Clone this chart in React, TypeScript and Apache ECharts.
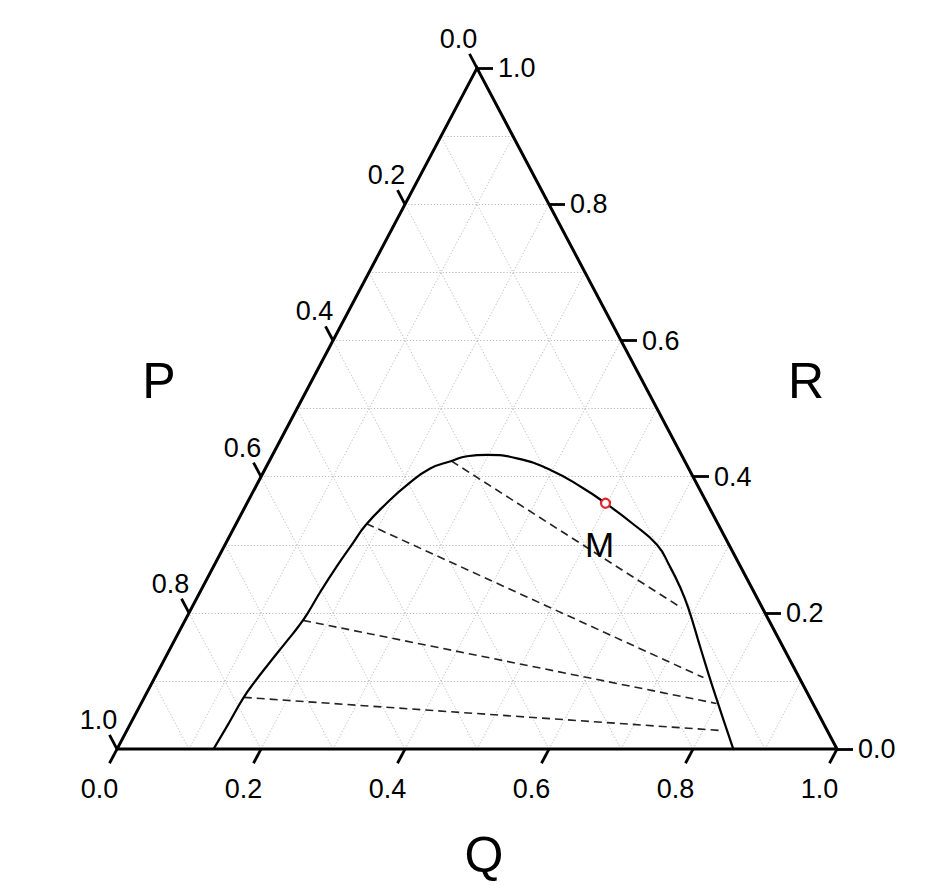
import { useEffect, useRef } from "react";
import * as echarts from "echarts";

// ---- data (ternary fractions; P = 1 - Q - R) ----
const gridValues = [0.1, 0.2, 0.3, 0.4, 0.5, 0.6, 0.7, 0.8, 0.9];
const tickValues = [0, 0.2, 0.4, 0.6, 0.8, 1.0];
const tickLabels = ["0.0", "0.2", "0.4", "0.6", "0.8", "1.0"];
const axisTitles = ["P", "Q", "R"];

// binodal curve
const binodalQ = [0.134, 0.136, 0.138, 0.142, 0.147, 0.157, 0.162, 0.165, 0.167, 0.171, 0.176, 0.181, 0.194, 0.209, 0.229, 0.253, 0.271, 0.298, 0.342, 0.397, 0.456, 0.498, 0.549, 0.6, 0.634, 0.663, 0.69, 0.735, 0.781, 0.856];
const binodalR = [0, 0.033, 0.076, 0.099, 0.121, 0.16, 0.18, 0.199, 0.231, 0.268, 0.3, 0.329, 0.361, 0.388, 0.412, 0.423, 0.43, 0.432, 0.427, 0.41, 0.383, 0.361, 0.332, 0.3, 0.268, 0.238, 0.207, 0.15, 0.092, 0];

// tie lines
const tieStartQ = [0.253, 0.181, 0.164, 0.138];
const tieStartR = [0.423, 0.331, 0.189, 0.076];
const tieEndQ = [0.681, 0.762, 0.799, 0.829];
const tieEndR = [0.207, 0.105, 0.067, 0.027];

// point M
const pointLabel = "M";
const pointQ = 0.498;
const pointR = 0.361;

// ternary (Q, R) -> cartesian (x, y)
const toXY = (q: number, r: number): [number, number] => [q + r / 2, r];

const FONT = "'Liberation Sans', Arial, Helvetica, sans-serif";

export default function App() {
  const ref = useRef<HTMLDivElement>(null);

  useEffect(() => {
    if (!ref.current) return;
    const chart = echarts.init(ref.current, undefined, { renderer: "svg" });

    // grid lines
    const gridSegs: any[] = [];
    gridValues.forEach((v) => {
      gridSegs.push({ coords: [toXY(0, v), toXY(1 - v, v)] }); // constant R
      gridSegs.push({ coords: [toXY(v, 0), toXY(v, 1 - v)] }); // constant Q
      gridSegs.push({ coords: [toXY(1 - v, 0), toXY(0, 1 - v)] }); // constant P
    });

    const qDir = [-0.0104, -0.0208];
    const pDir = [-0.0104, 0.0208];
    const rDir = [0.0222, 0];

    const tickSegs: any[] = [];
    const qLab: any[] = [];
    const pLab: any[] = [];
    const rLab: any[] = [];
    tickValues.forEach((v, i) => {
      const qa = toXY(v, 0);
      const qb = [qa[0] + qDir[0], qa[1] + qDir[1]];
      tickSegs.push({ coords: [qa, qb] });
      qLab.push([qb[0], qb[1], tickLabels[i]]);
      const pa = toXY(0, 1 - v);
      const pb = [pa[0] + pDir[0], pa[1] + pDir[1]];
      tickSegs.push({ coords: [pa, pb] });
      pLab.push([pb[0], pb[1], tickLabels[i]]);
      const ra = toXY(1 - v, v);
      const rb = [ra[0] + rDir[0], ra[1] + rDir[1]];
      tickSegs.push({ coords: [ra, rb] });
      rLab.push([rb[0], rb[1], tickLabels[i]]);
    });

    const tieSegs = tieStartQ.map((q, i) => ({
      coords: [toXY(q, tieStartR[i]), toXY(tieEndQ[i], tieEndR[i])],
    }));

    const binodal = binodalQ.map((q, i) => toXY(q, binodalR[i]));

    const labelSeries = (data: any[], label: any) => ({
      type: "scatter",
      data,
      symbolSize: 0,
      silent: true,
      clip: false,
      z: 5,
      itemStyle: { opacity: 1 },
      label: {
        show: true,
        position: "inside",
        formatter: (p: any) => p.value[2],
        fontSize: 27,
        fontFamily: FONT,
        color: "#000",
        ...label,
      },
    });

    chart.setOption({
      animation: false,
      grid: { left: 45, top: 0, width: 864, height: 817.2 },
      xAxis: { type: "value", min: -0.1, max: 1.1, show: false },
      yAxis: { type: "value", min: -0.1, max: 1.1, show: false },
      series: [
        {
          type: "lines",
          coordinateSystem: "cartesian2d",
          data: gridSegs,
          silent: true,
          clip: false,
          lineStyle: { color: "#bdbdbd", width: 1, type: [1.2, 2], opacity: 1 },
          z: 1,
        },
        {
          type: "lines",
          coordinateSystem: "cartesian2d",
          data: tieSegs,
          silent: true,
          clip: false,
          lineStyle: { color: "#222", width: 1.6, type: [8, 5], opacity: 1 },
          z: 2,
        },
        {
          type: "line",
          data: binodal,
          smooth: 0.5,
          showSymbol: false,
          silent: true,
          clip: false,
          lineStyle: { color: "#000", width: 2.2 },
          z: 3,
        },
        {
          type: "lines",
          coordinateSystem: "cartesian2d",
          polyline: true,
          data: [{ coords: [toXY(0, 0), toXY(1, 0), toXY(0, 1), toXY(0, 0)] }],
          silent: true,
          clip: false,
          lineStyle: { color: "#000", width: 3, opacity: 1, join: "miter" },
          z: 4,
        },
        {
          type: "lines",
          coordinateSystem: "cartesian2d",
          data: tickSegs,
          silent: true,
          clip: false,
          lineStyle: { color: "#000", width: 2.8, opacity: 1 },
          z: 4,
        },
        labelSeries(qLab, { offset: [-10, 26] }),
        labelSeries(pLab, { offset: [-11, -15] }),
        labelSeries(rLab, { align: "left", offset: [5, 0] }),
        {
          type: "scatter",
          data: [[...toXY(pointQ, pointR), pointLabel]],
          symbol: "circle",
          symbolSize: 9,
          clip: false,
          z: 6,
          itemStyle: { color: "#fff", borderColor: "#e3242b", borderWidth: 2.2, opacity: 1 },
          label: {
            show: true,
            position: "inside",
            formatter: (p: any) => p.value[2],
            offset: [-6, 41],
            fontSize: 35,
            fontFamily: FONT,
            color: "#000",
          },
        },
      ],
      graphic: [
        { type: "text", x: 159, y: 381, style: { text: axisTitles[0], fontSize: 50, fontFamily: FONT, fill: "#000", textAlign: "center", textVerticalAlign: "middle" } },
        { type: "text", x: 484, y: 855, style: { text: axisTitles[1], fontSize: 50, fontFamily: FONT, fill: "#000", textAlign: "center", textVerticalAlign: "middle" } },
        { type: "text", x: 806, y: 381, style: { text: axisTitles[2], fontSize: 50, fontFamily: FONT, fill: "#000", textAlign: "center", textVerticalAlign: "middle" } },
      ],
    });

    return () => chart.dispose();
  }, []);

  return (
    <div
      ref={ref}
      style={{ position: "absolute", left: 0, top: 0, width: 948, height: 888 }}
    />
  );
}
